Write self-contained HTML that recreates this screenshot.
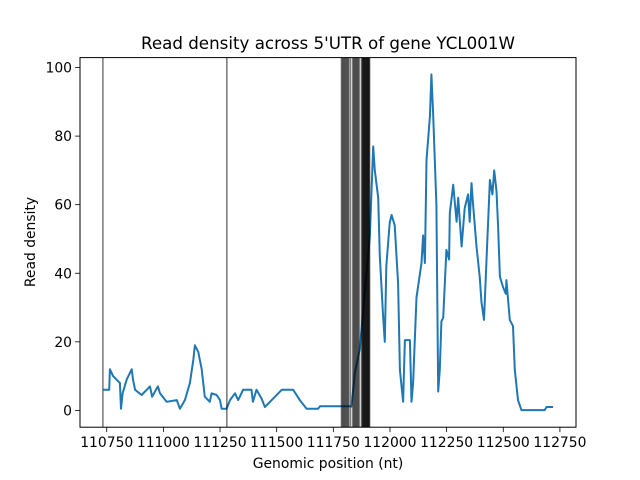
<!DOCTYPE html>
<html><head><meta charset="utf-8"><style>
body{margin:0;background:#fff;}
svg{display:block;font-family:"DejaVu Sans","Liberation Sans",sans-serif;}
</style></head><body>
<svg id="chart" width="640" height="480" viewBox="0 0 640 480">
<rect width="640" height="480" fill="#fff"/>
<g id="plot"></g>
<g id="vlines"></g>
<rect x="80" y="57.6" width="496" height="369.6" fill="none" stroke="#000" stroke-width="1"/>
<g id="xticks"></g><g id="yticks"></g>
<text x="328" y="49" text-anchor="middle" font-size="16.7">Read density across 5'UTR of gene YCL001W</text>
<text x="328" y="468" text-anchor="middle" font-size="13.9">Genomic position (nt)</text>
<text transform="translate(35,242) rotate(-90)" text-anchor="middle" font-size="13.9">Read density</text>
</svg>
<script>
const positions=[110735,110761,110764,110778,110808,110813,110820,110838,110860,110866,110875,110904,110941,110950,110976,110985,111014,111059,111073,111095,111117,111132,111139,111154,111169,111183,111205,111213,111235,111250,111257,111279,111294,111316,111330,111352,111389,111395,111411,111433,111448,111478,111522,111573,111602,111632,111683,111691,111749,111823,111830,111845,111867,111911,111926,111933,111948,111955,111970,111977,111984,111999,112007,112021,112036,112044,112058,112066,112088,112095,112102,112117,112139,112146,112154,112161,112176,112183,112191,112205,112213,112220,112227,112235,112249,112261,112264,112279,112294,112301,112316,112330,112345,112352,112360,112367,112382,112396,112404,112415,112426,112441,112452,112460,112470,112477,112485,112499,112511,112514,112529,112543,112551,112565,112580,112683,112691,112720];
const density=[6,6,12,10,8,0.5,5,9,12,9,6,4.5,7,4,7,5,2.5,3,0.5,3,8,14.7,19,17,12,4,2.5,5,4.5,3,0.5,0.5,3,5,3,6,6,2.5,6,3.5,1,3,6,6,3,0.5,0.5,1.2,1.2,1.2,1.1,11,18,50.7,77,70,62,45,27,20,42,54.7,57,54,37,11.8,2.5,20.5,20.5,2.5,8,33,43,51,43,73,85.7,98,86,60,5.5,12,26,27,46.8,44,57.5,65.8,55,62,47.8,59,63,55,66.3,60,47.8,39,31.5,26.4,43.9,67.2,63,70,64,53.6,39,36,34,38,26.4,24.6,11.8,3,0.1,0.1,1,1];
const markerPositions=[110733,111280,111786,111790,111794,111798,111802,111806,111810,111814,111818,111826,111836,111840,111844,111848,111852,111856,111860,111864,111874,111878,111880,111882,111884,111886,111888,111890,111892,111894,111896,111898,111900,111902,111904,111906,111908,111910];
const xTickLabels=[110750,111000,111250,111500,111750,112000,112250,112500,112750];
const yTickLabels=[0,20,40,60,80,100];
const X0=80,X1=576,Y0=427.2,Y1=57.6,XMIN=110632,XMAX=112821,YMIN=-4.9,YMAX=102.9;
const xs=v=>X0+(v-XMIN)/(XMAX-XMIN)*(X1-X0);
const ys=v=>Y0-(v-YMIN)/(YMAX-YMIN)*(Y0-Y1);
const NS="http://www.w3.org/2000/svg";
function mk(t,a){const e=document.createElementNS(NS,t);for(const k in a)e.setAttribute(k,a[k]);return e;}
let d=positions.map((p,i)=>(i?'L':'M')+xs(p).toFixed(1)+' '+ys(density[i]).toFixed(1)).join(' ');
const path=mk('path',{d:d,fill:'none',stroke:'#1f77b4','stroke-width':2,'stroke-linejoin':'round'});


document.getElementById('plot').appendChild(path);
const vg=document.getElementById('vlines');
markerPositions.forEach((p,i)=>{
  const l=mk('line',{x1:xs(p),x2:xs(p),y1:Y1,y2:Y0,stroke:'#000','stroke-opacity':0.5,'stroke-width':1.6});
  
  
  vg.appendChild(l);
});
const xt=document.getElementById('xticks');
xTickLabels.forEach(v=>{
  const x=xs(v);
  xt.appendChild(mk('line',{x1:x,x2:x,y1:Y0,y2:Y0+4.9,stroke:'#000','stroke-width':0.8}));
  const t=mk('text',{x:x,y:Y0+20,'text-anchor':'middle','font-size':13.9});
  
  
  t.textContent=v;xt.appendChild(t);
});
const yt=document.getElementById('yticks');
yTickLabels.forEach(v=>{
  const y=ys(v);
  yt.appendChild(mk('line',{x1:X0-4.9,x2:X0,y1:y,y2:y,stroke:'#000','stroke-width':0.8}));
  const t=mk('text',{x:X0-8,y:y+5,'text-anchor':'end','font-size':13.9});
  
  
  t.textContent=v;yt.appendChild(t);
});
</script>
</body></html>
